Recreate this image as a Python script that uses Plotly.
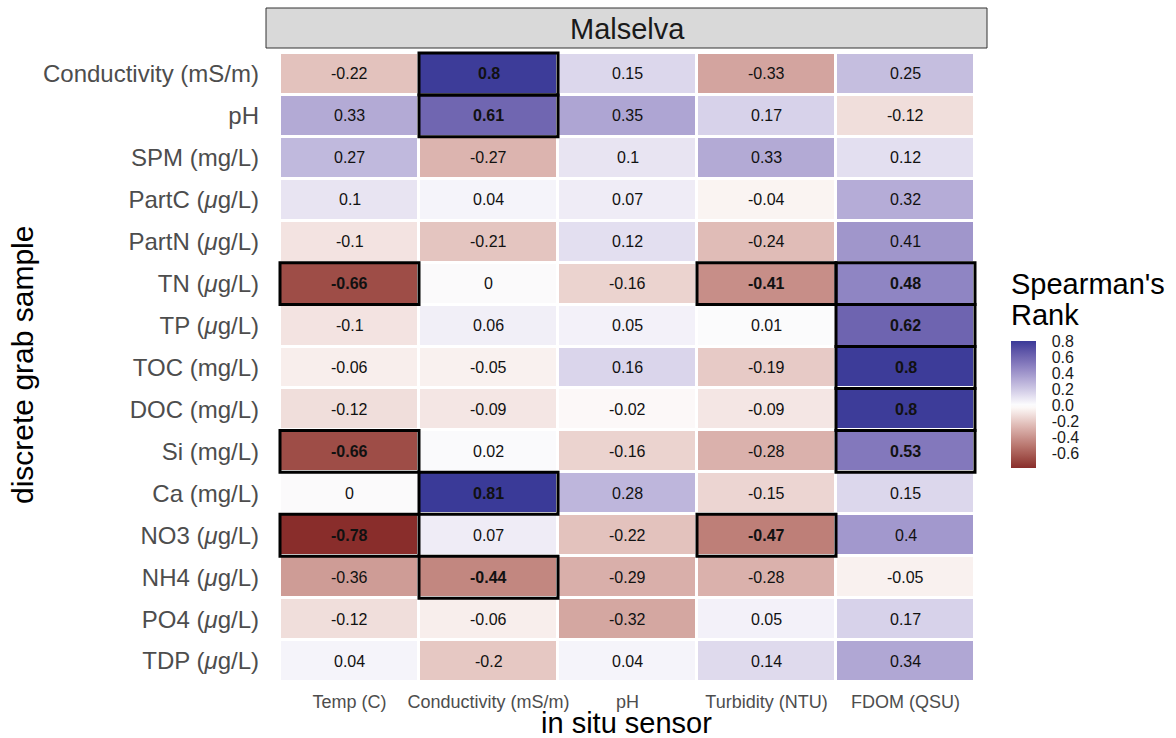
import plotly.graph_objects as go

# ---------------- data ----------------
sensors = ["Temp (C)", "Conductivity (mS/m)", "pH", "Turbidity (NTU)", "FDOM (QSU)"]
samples = ["Conductivity (mS/m)", "pH", "SPM (mg/L)", "PartC (<i>μ</i>g/L)", "PartN (<i>μ</i>g/L)",
           "TN (<i>μ</i>g/L)", "TP (<i>μ</i>g/L)", "TOC (mg/L)", "DOC (mg/L)", "Si (mg/L)",
           "Ca (mg/L)", "NO3 (<i>μ</i>g/L)", "NH4 (<i>μ</i>g/L)", "PO4 (<i>μ</i>g/L)", "TDP (<i>μ</i>g/L)"]

rho = [
    [-0.22, 0.80, 0.15, -0.33, 0.25],
    [0.33, 0.61, 0.35, 0.17, -0.12],
    [0.27, -0.27, 0.10, 0.33, 0.12],
    [0.10, 0.04, 0.07, -0.04, 0.32],
    [-0.10, -0.21, 0.12, -0.24, 0.41],
    [-0.66, 0.00, -0.16, -0.41, 0.48],
    [-0.10, 0.06, 0.05, 0.01, 0.62],
    [-0.06, -0.05, 0.16, -0.19, 0.80],
    [-0.12, -0.09, -0.02, -0.09, 0.80],
    [-0.66, 0.02, -0.16, -0.28, 0.53],
    [0.00, 0.81, 0.28, -0.15, 0.15],
    [-0.78, 0.07, -0.22, -0.47, 0.40],
    [-0.36, -0.44, -0.29, -0.28, -0.05],
    [-0.12, -0.06, -0.32, 0.05, 0.17],
    [0.04, -0.20, 0.04, 0.14, 0.34],
]

significant = [
    [0, 1, 0, 0, 0],
    [0, 1, 0, 0, 0],
    [0, 0, 0, 0, 0],
    [0, 0, 0, 0, 0],
    [0, 0, 0, 0, 0],
    [1, 0, 0, 1, 1],
    [0, 0, 0, 0, 1],
    [0, 0, 0, 0, 1],
    [0, 0, 0, 0, 1],
    [1, 0, 0, 0, 1],
    [0, 1, 0, 0, 0],
    [1, 0, 0, 1, 0],
    [0, 1, 0, 0, 0],
    [0, 0, 0, 0, 0],
    [0, 0, 0, 0, 0],
]

cbar_ticks = [0.8, 0.6, 0.4, 0.2, 0.0, -0.2, -0.4, -0.6]
facet_label = "Malselva"
x_title = "in situ sensor"
y_title = "discrete grab sample"
legend_title = ["Spearman's", "Rank"]

# ---------------- colour scale (ggplot gradient2, Lab interpolation) ----------------
LOW, MID, HIGH = "#832424", "#FFFFFF", "#3A3A98"


def _hex2rgb(h):
    h = h.lstrip("#")
    return [int(h[i:i + 2], 16) / 255 for i in (0, 2, 4)]


def _lin(c):
    return c / 12.92 if c <= 0.04045 else ((c + 0.055) / 1.055) ** 2.4


def _delin(c):
    c = max(0.0, min(1.0, c))
    return 12.92 * c if c <= 0.0031308 else 1.055 * c ** (1 / 2.4) - 0.055


WX, WY, WZ = 0.95047, 1.0, 1.08883


def _f(t):
    return t ** (1 / 3) if t > 0.008856 else 7.787 * t + 16 / 116


def _finv(t):
    return t ** 3 if t ** 3 > 0.008856 else (t - 16 / 116) / 7.787


def hex2lab(h):
    r, g, b = [_lin(c) for c in _hex2rgb(h)]
    X = 0.4124 * r + 0.3576 * g + 0.1805 * b
    Y = 0.2126 * r + 0.7152 * g + 0.0722 * b
    Z = 0.0193 * r + 0.1192 * g + 0.9505 * b
    fx, fy, fz = _f(X / WX), _f(Y / WY), _f(Z / WZ)
    return (116 * fy - 16, 500 * (fx - fy), 200 * (fy - fz))


def lab2hex(L, a, b):
    fy = (L + 16) / 116
    fx = fy + a / 500
    fz = fy - b / 200
    X, Y, Z = WX * _finv(fx), WY * _finv(fy), WZ * _finv(fz)
    r = 3.2406 * X - 1.5372 * Y - 0.4986 * Z
    g = -0.9689 * X + 1.8758 * Y + 0.0415 * Z
    bb = 0.0557 * X - 0.2040 * Y + 1.0570 * Z
    return "#" + "".join("%02x" % round(_delin(c) * 255) for c in (r, g, bb))


labs = [hex2lab(LOW), hex2lab(MID), hex2lab(HIGH)]


def grad2(t):
    if t <= 0.5:
        u = t / 0.5
        A, B = labs[0], labs[1]
    else:
        u = (t - 0.5) / 0.5
        A, B = labs[1], labs[2]
    return lab2hex(*[A[k] + (B[k] - A[k]) * u for k in range(3)])


flat = [v for row in rho for v in row]
zmin, zmax = min(flat), max(flat)
extent = max(abs(zmin), abs(zmax))
N = 40
colorscale = []
for k in range(N + 1):
    p = k / N
    v = zmin + p * (zmax - zmin)
    colorscale.append([p, grad2(v / extent / 2 + 0.5)])

# ---------------- figure ----------------
FONT = "Liberation Sans, Arial, Helvetica, sans-serif"
W, H = 1176, 738
L_M, R_M, T_M, B_M = 266, 189, 48, 54
PW, PH = W - L_M - R_M, H - T_M - B_M


def px_x(x):
    return (x - L_M) / PW


def px_y(y):
    return (H - B_M - y) / PH


ncol, nrow = len(sensors), len(samples)
xs = list(range(ncol))
ys = list(range(nrow))

fig = go.Figure()
fig.add_trace(go.Heatmap(
    z=rho, x=xs, y=ys, zmin=zmin, zmax=zmax, colorscale=colorscale,
    xgap=3, ygap=3, hoverinfo="skip",
    colorbar=dict(
        x=px_x(1011), xanchor="left", xpad=0,
        y=px_y(404), yanchor="middle", ypad=0,
        thickness=25, len=127, lenmode="pixels",
        outlinewidth=0,
        tickvals=cbar_ticks, ticktext=["%.1f" % t for t in cbar_ticks],
        ticks="outside", ticklen=13, tickcolor="rgba(255,255,255,0)",
        tickfont=dict(family=FONT, size=16, color="#1a1a1a"),
    ),
))

annotations = []
shapes = []
for i in range(nrow):
    for j in range(ncol):
        v = rho[i][j]
        txt = "%g" % v
        sig = significant[i][j] == 1
        annotations.append(dict(
            x=j, y=i, xref="x", yref="y", text=("<b>%s</b>" % txt) if sig else txt,
            showarrow=False, xanchor="center", yanchor="middle",
            font=dict(family=FONT, size=16, color="#111111")))
        if sig:
            shapes.append(dict(type="rect", xref="x", yref="y",
                               x0=j - 0.5, x1=j + 0.5, y0=i - 0.5, y1=i + 0.5,
                               line=dict(color="black", width=3), layer="above"))

# facet strip
shapes.append(dict(type="rect", xref="paper", yref="paper", x0=0, x1=1,
                   y0=px_y(48), y1=px_y(8), fillcolor="#D9D9D9",
                   line=dict(color="#333333", width=1), layer="below"))
annotations.append(dict(x=px_x(627), y=px_y(29), xref="paper", yref="paper",
                        text=facet_label, showarrow=False, xanchor="center", yanchor="middle",
                        font=dict(family=FONT, size=29, color="#1a1a1a")))
# axis titles
annotations.append(dict(x=px_x(626), y=px_y(723), xref="paper", yref="paper",
                        text=x_title, showarrow=False, xanchor="center", yanchor="middle",
                        font=dict(family=FONT, size=29, color="black")))
annotations.append(dict(x=px_x(23), y=px_y(365), xref="paper", yref="paper",
                        text=y_title, showarrow=False, textangle=-90,
                        xanchor="center", yanchor="middle",
                        font=dict(family=FONT, size=30, color="black")))
# legend title
annotations.append(dict(x=px_x(1009), y=px_y(284), xref="paper", yref="paper",
                        text=legend_title[0], showarrow=False, xanchor="left", yanchor="middle",
                        font=dict(family=FONT, size=29, color="black")))
annotations.append(dict(x=px_x(1009), y=px_y(315), xref="paper", yref="paper",
                        text=legend_title[1], showarrow=False, xanchor="left", yanchor="middle",
                        font=dict(family=FONT, size=29, color="black")))

row_h = 41.95
col_w = 139
fig.update_layout(
    width=W, height=H,
    margin=dict(l=L_M, r=R_M, t=T_M, b=B_M, pad=0, autoexpand=False),
    paper_bgcolor="white", plot_bgcolor="white",
    annotations=annotations, shapes=shapes,
    xaxis=dict(range=[-0.5 - 14 / col_w, ncol - 0.5 + 12 / col_w],
               tickvals=xs, ticktext=sensors, showgrid=False, zeroline=False,
               ticks="", showline=False, automargin=False, ticklabelstandoff=5,
               tickfont=dict(family=FONT, size=18, color="#4D4D4D")),
    yaxis=dict(range=[nrow - 0.5 + 2 / row_h, -0.5 - 5 / row_h],
               tickvals=ys, ticktext=samples, showgrid=False, zeroline=False,
               ticks="", showline=False, ticklabelstandoff=6, automargin=False,
               tickfont=dict(family=FONT, size=24, color="#4D4D4D")),
    font=dict(family=FONT),
)

fig.write_html(
    "out.html",
    config={"displayModeBar": False},
    post_script="document.body.style.margin='0';document.body.style.overflow='hidden';",
)
